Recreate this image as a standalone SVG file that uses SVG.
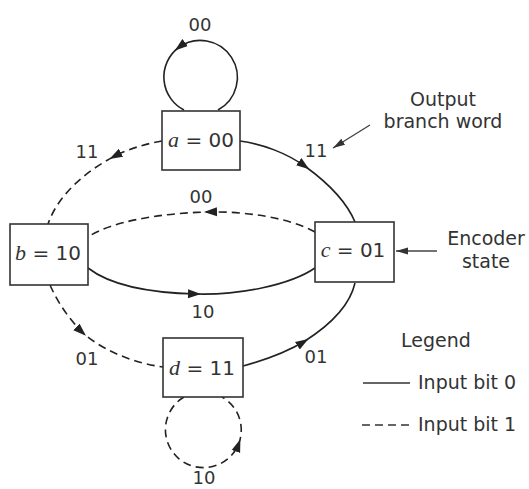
<svg xmlns="http://www.w3.org/2000/svg" width="529" height="489" viewBox="0 0 529 489">
<defs>
<marker id="ah" markerUnits="userSpaceOnUse" markerWidth="16" markerHeight="12" viewBox="0 0 16 12" refX="9" refY="6" orient="auto">
<path d="M0,1.5 L13,6 L0,10.5 Z" fill="#222"/>
</marker>
<marker id="ahe" markerUnits="userSpaceOnUse" markerWidth="14" markerHeight="10" viewBox="0 0 14 10" refX="12" refY="5" orient="auto">
<path d="M0,1.5 L12,5 L0,8.5 Z" fill="#333"/>
</marker>
<style>
.box{fill:#fff;stroke:#333;stroke-width:1.6}
.sol{fill:none;stroke:#222;stroke-width:1.6;marker-mid:url(#ah)}
.das{fill:none;stroke:#222;stroke-width:1.6;stroke-dasharray:8 5;marker-mid:url(#ah)}
.nt{font-family:"DejaVu Sans",sans-serif;font-size:20px;fill:#333;text-anchor:middle}
.v{font-family:"Liberation Serif",serif;font-style:italic;font-size:22px}
.el{font-family:"DejaVu Sans",sans-serif;font-size:18px;fill:#333;text-anchor:middle}
.an{font-family:"DejaVu Sans",sans-serif;font-size:19px;fill:#333;text-anchor:middle}
.lg{font-family:"DejaVu Sans",sans-serif;font-size:19px;fill:#333}
.ptr{fill:none;stroke:#444;stroke-width:1.4;marker-end:url(#ahe)}
</style>
</defs>
<rect width="529" height="489" fill="#fff"/>
<g id="connectors">
<path class="sol" d="M218,110 A37,37 0 1 0 178,48 A37,37 0 0 0 184,110"/>
<path class="das" d="M162,141 C145,144 128,149 113,157 C85,172 58,195 48,224"/>
<path class="sol" d="M240,141 C262,144 287,153 306,167 C328,183 347,203 355,222"/>
<path class="das" d="M315,232 C290,218 245,211 208,212 C160,213 110,222 88,237"/>
<path class="sol" d="M88,268 C110,285 150,293 197,294 C240,295 290,285 315,268"/>
<path class="das" d="M50,285 C58,303 69,319 83,333 C105,352 135,363 163,367"/>
<path class="sol" d="M243,366 C265,360 287,352 305,341 C330,325 350,305 355,283"/>
<path class="das" d="M184,397 A38,38 0 1 0 239,443 A38,38 0 0 0 222,397"/>
</g>
<g id="edge-labels">
<text class="el" x="200" y="31">00</text>
<text class="el" x="87" y="158">11</text>
<text class="el" x="316" y="157">11</text>
<text class="el" x="201" y="203">00</text>
<text class="el" x="203" y="318">10</text>
<text class="el" x="87" y="365">01</text>
<text class="el" x="316" y="363">01</text>
<text class="el" x="204" y="484">10</text>
</g>
<g id="node-a">
<rect class="box" x="162" y="111" width="78" height="59"/>
<text class="nt" x="201" y="147"><tspan class="v">a</tspan> = 00</text>
</g>
<g id="node-b">
<rect class="box" x="10" y="224" width="78" height="61"/>
<text class="nt" x="48" y="260"><tspan class="v">b</tspan> = 10</text>
</g>
<g id="node-c">
<rect class="box" x="315" y="222" width="79" height="60"/>
<text class="nt" x="353" y="257"><tspan class="v">c</tspan> = 01</text>
</g>
<g id="node-d">
<rect class="box" x="163" y="338" width="80" height="59"/>
<text class="nt" x="202" y="375"><tspan class="v">d</tspan> = 11</text>
</g>
<g id="annotations">
<text class="an" x="443" y="106">Output</text>
<text class="an" x="443" y="128">branch word</text>
<path class="ptr" d="M370,125 L333,148"/>
<text class="an" x="486" y="245">Encoder</text>
<text class="an" x="486" y="268">state</text>
<path class="ptr" d="M437,251 L396,251"/>
</g>
<g id="legend">
<text class="lg" x="436" y="347" text-anchor="middle">Legend</text>
<line x1="363" y1="383" x2="410" y2="383" stroke="#333" stroke-width="1.6"/>
<text class="lg" x="418" y="389">Input bit 0</text>
<line x1="362" y1="425" x2="412" y2="425" stroke="#333" stroke-width="1.6" stroke-dasharray="8 5"/>
<text class="lg" x="418" y="431">Input bit 1</text>
</g>
</svg>
